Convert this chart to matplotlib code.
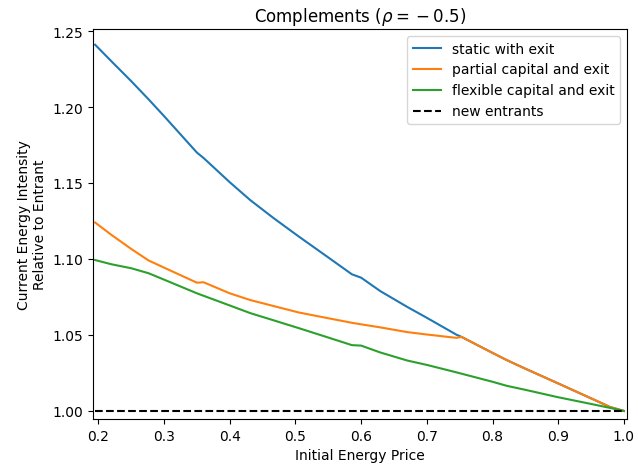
import numpy as np
import matplotlib
matplotlib.use("Agg")
import matplotlib.pyplot as plt

# prix initial de l'energie
prix = [0.195, 0.22, 0.25, 0.2765, 0.30, 0.35, 0.36, 0.40, 0.431, 0.467, 0.505, 0.55,
        0.586, 0.60, 0.629, 0.67, 0.70, 0.745, 0.753, 0.80, 0.822, 0.85, 0.898, 0.95,
        0.979, 1.0]

statique = [1.241, 1.230, 1.217, 1.205, 1.194, 1.170, 1.1665, 1.1505, 1.1388, 1.1268,
            1.1148, 1.101, 1.0899, 1.0877, 1.0789, 1.0685, 1.0613, 1.0502, 1.0487,
            1.0382, 1.0334, 1.0278, 1.0185, 1.0083, 1.0026, 1.000]
partiel = [1.124, 1.1158, 1.1066, 1.099, 1.0943, 1.0844, 1.0847, 1.0774, 1.073, 1.069,
           1.0648, 1.061, 1.058, 1.057, 1.055, 1.0519, 1.0503, 1.0481, 1.0487,
           1.0382, 1.0334, 1.0278, 1.0185, 1.0083, 1.0026, 1.000]
flexible = [1.0993, 1.0965, 1.0939, 1.0906, 1.0864, 1.0774, 1.0758, 1.0694, 1.0644,
            1.0596, 1.0545, 1.0483, 1.0433, 1.043, 1.0385, 1.0332, 1.0303, 1.0254,
            1.0245, 1.0192, 1.0165, 1.0139, 1.0092, 1.0046, 1.002, 1.000]
entrants = [1.0] * len(prix)

fig, ax = plt.subplots(figsize=(6.38, 4.77), dpi=100)
fig.subplots_adjust(left=0.146, right=0.983, top=0.937, bottom=0.1195)

ax.plot(prix, statique, label='static with exit')
ax.plot(prix, partiel, label='partial capital and exit')
ax.plot(prix, flexible, label='flexible capital and exit')
ax.plot(prix, entrants, 'k--', label='new entrants')

ax.set_xlim(0.192, 1.005)
ax.set_ylim(0.9947, 1.2513)
ax.set_title(r'Complements ($\rho = {}- 0.5$)')
ax.set_xlabel('Initial Energy Price')
ax.set_ylabel('Current Energy Intensity\nRelative to Entrant')
ax.legend(loc='upper right')

fig.savefig('out.png', dpi=100)
